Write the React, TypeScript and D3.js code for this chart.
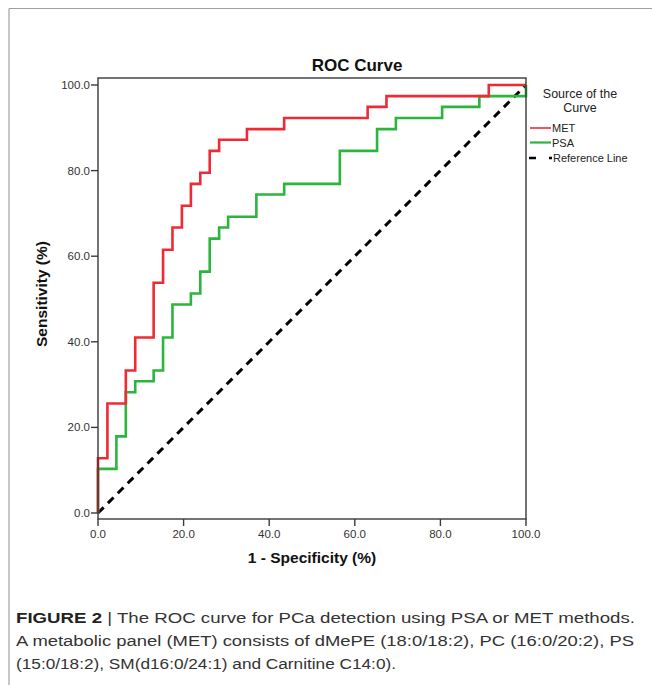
import React from "react";
import * as d3 from "d3";

// ROC operating points (1 - specificity %, sensitivity %)
const metFpr = [0, 0, 2.2, 6.5, 8.7, 13.0, 15.2, 17.4, 19.6, 21.7, 23.9, 26.1, 28.3, 34.8, 43.5, 63.0, 67.4, 91.3, 100];
const metTpr = [0, 12.8, 25.6, 33.3, 41.0, 53.8, 61.5, 66.7, 71.8, 76.9, 79.5, 84.6, 87.2, 89.7, 92.3, 94.9, 97.4, 100, 100];

const psaFpr = [0, 0, 4.3, 6.5, 8.7, 13.0, 15.2, 17.4, 21.7, 23.9, 26.1, 28.3, 30.4, 37.0, 43.5, 56.5, 65.2, 69.6, 80.4, 89.1, 100];
const psaTpr = [0, 10.3, 17.9, 28.2, 30.8, 33.3, 41.0, 48.7, 51.3, 56.4, 64.1, 66.7, 69.2, 74.4, 76.9, 84.6, 89.7, 92.3, 94.9, 97.4, 100];

const refFpr = [0, 100];
const refTpr = [0, 100];

const tickValues = [0, 20, 40, 60, 80, 100];

const legendLabels = ["MET", "PSA", "Reference Line"];
const legendTitle = ["Source of the", "Curve"];

const captionLines = [
  "The ROC curve for PCa detection using PSA or MET methods.",
  "A metabolic panel (MET) consists of dMePE (18:0/18:2), PC (16:0/20:2), PS",
  "(15:0/18:2), SM(d16:0/24:1) and Carnitine C14:0).",
];

const RED = "#ee2b35";
const GREEN = "#2cb53c";
const AXIS = "#3a3a3a";
const FONT = "'Liberation Sans', Arial, sans-serif";

export default function App() {
  const x = d3.scaleLinear().domain([0, 100]).range([98, 526]);
  const y = d3.scaleLinear().domain([0, 100]).range([513, 85]);
  const frameTop = 78;
  const frameBottom = 519;

  const toPts = (xs: number[], ys: number[]) => xs.map((v, i) => [v, ys[i]] as [number, number]);
  const stepLine = d3
    .line<[number, number]>()
    .x((d) => x(d[0]))
    .y((d) => y(d[1]))
    .curve(d3.curveStepAfter);
  const straight = d3
    .line<[number, number]>()
    .x((d) => x(d[0]))
    .y((d) => y(d[1]));

  const fmt = d3.format(".1f");

  return (
    <svg
      width={652}
      height={685}
      style={{ position: "absolute", left: 0, top: 0, background: "#fff" }}
      fontFamily={FONT}
    >
      {/* outer figure frame */}
      <line x1={9} y1={8.5} x2={652} y2={8.5} stroke="#a0a0a0" strokeWidth={1.2} />
      <line x1={9} y1={8.5} x2={9} y2={685} stroke="#a0a0a0" strokeWidth={1.2} />

      {/* title */}
      <text x={357} y={71} textAnchor="middle" fontSize={17} fontWeight="bold" fill="#111">
        ROC Curve
      </text>

      {/* reference line */}
      <path
        d={straight(toPts(refFpr, refTpr)) || ""}
        fill="none"
        stroke="#000"
        strokeWidth={3}
        strokeDasharray="8,6"
      />
      {/* curves */}
      <path d={stepLine(toPts(psaFpr, psaTpr)) || ""} fill="none" stroke={GREEN} strokeWidth={2.6} />
      <path d={stepLine(toPts(metFpr, metTpr)) || ""} fill="none" stroke={RED} strokeWidth={2.6} />

      {/* plot frame */}
      <rect
        x={x(0)}
        y={frameTop}
        width={x(100) - x(0)}
        height={frameBottom - frameTop}
        fill="none"
        stroke={AXIS}
        strokeWidth={1.4}
      />

      {/* y ticks */}
      {tickValues.map((t) => (
        <g key={"y" + t}>
          <line x1={x(0) - 7} x2={x(0)} y1={y(t)} y2={y(t)} stroke={AXIS} strokeWidth={1.4} />
          <text x={x(0) - 8} y={y(t) + 4} textAnchor="end" fontSize={11.5} fill="#333">
            {fmt(t)}
          </text>
        </g>
      ))}
      {/* x ticks */}
      {tickValues.map((t) => (
        <g key={"x" + t}>
          <line x1={x(t)} x2={x(t)} y1={frameBottom} y2={frameBottom + 7} stroke={AXIS} strokeWidth={1.4} />
          <text x={x(t)} y={frameBottom + 19} textAnchor="middle" fontSize={11.5} fill="#333">
            {fmt(t)}
          </text>
        </g>
      ))}

      {/* axis titles */}
      <text x={312} y={563} textAnchor="middle" fontSize={15.5} fontWeight="bold" fill="#111">
        1 - Specificity (%)
      </text>
      <text
        transform={`translate(47,294) rotate(-90)`}
        textAnchor="middle"
        fontSize={15.5}
        fontWeight="bold"
        fill="#111"
      >
        Sensitivity (%)
      </text>

      {/* legend */}
      <text x={580} y={97.5} textAnchor="middle" fontSize={12.5} fill="#222">
        {legendTitle[0]}
      </text>
      <text x={580} y={111.5} textAnchor="middle" fontSize={12.5} fill="#222">
        {legendTitle[1]}
      </text>
      <line x1={530} x2={551} y1={128} y2={128} stroke={RED} strokeWidth={1.6} />
      <text x={552} y={132} fontSize={11} fill="#222">{legendLabels[0]}</text>
      <line x1={530} x2={551} y1={142.5} y2={142.5} stroke={GREEN} strokeWidth={2.2} />
      <text x={552} y={146.5} fontSize={11} fill="#222">{legendLabels[1]}</text>
      <line x1={529} x2={552} y1={158} y2={158} stroke="#000" strokeWidth={2.5} strokeDasharray="7,13" />
      <text x={553} y={162} fontSize={11} fill="#222">{legendLabels[2]}</text>

      {/* caption */}
      <text x={16} y={623} fontSize={15.5} fill="#333" textLength={619} lengthAdjust="spacingAndGlyphs">
        <tspan fontWeight="bold" fill="#222">FIGURE 2</tspan>
        <tspan> | {captionLines[0]}</tspan>
      </text>
      <text x={16} y={646} fontSize={15.5} fill="#333" textLength={618} lengthAdjust="spacingAndGlyphs">
        {captionLines[1]}
      </text>
      <text x={16} y={669} fontSize={15.5} fill="#333" textLength={380} lengthAdjust="spacingAndGlyphs">
        {captionLines[2]}
      </text>
    </svg>
  );
}
